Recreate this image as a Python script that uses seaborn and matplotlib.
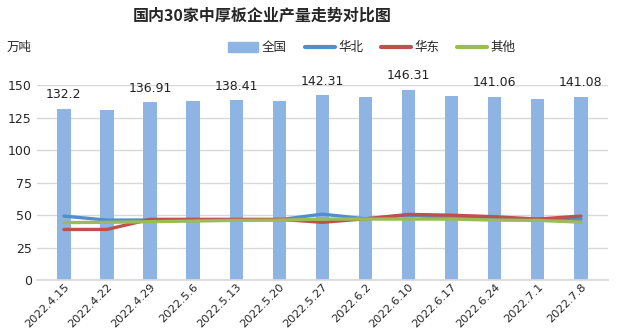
import numpy as np
import pandas as pd
import matplotlib
matplotlib.use("Agg")
import matplotlib.pyplot as plt
import seaborn as sns
from matplotlib.patches import Patch
from matplotlib.lines import Line2D

dates = ["2022.4.15", "2022.4.22", "2022.4.29", "2022.5.6", "2022.5.13", "2022.5.20",
         "2022.5.27", "2022.6.2", "2022.6.10", "2022.6.17", "2022.6.24", "2022.7.1", "2022.7.8"]
total = [132.2, 130.7, 136.91, 138.3, 138.41, 138.3, 142.31, 140.7, 146.31, 142.2, 141.06, 139.9, 141.08]
north = [49.3, 46.2, 46.3, 46.5, 46.5, 46.5, 50.8, 47.2, 50.0, 48.0, 47.0, 47.0, 47.0]
east = [39.0, 39.0, 46.8, 46.8, 46.8, 46.8, 44.5, 47.2, 50.6, 50.0, 48.8, 47.0, 49.3]
other = [44.3, 44.5, 45.0, 45.5, 46.0, 46.2, 47.0, 47.0, 47.0, 47.0, 46.2, 46.0, 44.6]
label_idx = [0, 2, 4, 6, 8, 10, 12]

sns.set_theme(style="white")
plt.rcParams['font.family'] = ['Noto Sans CJK SC', 'DejaVu Sans']

df = pd.DataFrame({"date": dates, "total": total})
lines = pd.DataFrame({
    "pos": np.tile(np.arange(len(dates)), 3),
    "val": north + east + other,
    "series": ["华北"] * len(dates) + ["华东"] * len(dates) + ["其他"] * len(dates),
})

bar_c = "#8EB4E3"
pal = {"华北": "#4F8FD0", "华东": "#C0504D", "其他": "#9BBB59"}

fig = plt.figure(figsize=(6.2, 3.35), dpi=100)
ax = fig.add_axes([0.06, 0.164, 0.92, 0.581])

sns.barplot(data=df, x="date", y="total", color=bar_c, width=0.31, ax=ax, saturation=1,
            linewidth=0, edgecolor="none")
sns.lineplot(data=lines, x="pos", y="val", hue="series", palette=pal, linewidth=2.4,
             ax=ax, legend=False, sort=False)

for i in label_idx:
    ax.text(i, total[i] + 11, f"{total[i]:g}", ha="center", va="center", fontsize=9,
            color="#222222", family=["DejaVu Sans"], clip_on=False)

ax.set_ylim(0, 150)
ax.set_xlim(-0.62, len(dates) - 0.38)
ax.set_yticks([0, 25, 50, 75, 100, 125, 150])
ax.yaxis.grid(True, color="#D9D9D9", linewidth=1)
ax.set_axisbelow(True)
for s in ["left", "right", "top"]:
    ax.spines[s].set_visible(False)
ax.spines["bottom"].set_color("#D9D9D9")
ax.set_xlabel("")
ax.set_ylabel("")
ax.set_xticks(range(len(dates)))
ax.set_xticklabels(dates, rotation=45, ha="right", rotation_mode="anchor", fontsize=8.2,
                   family=["DejaVu Sans"])
ax.tick_params(axis="y", labelsize=9, length=0, pad=4)
ax.tick_params(axis="x", length=0, pad=1)
for t in ax.get_yticklabels():
    t.set_family(["DejaVu Sans"])

fig.text(0.423, 0.952, "国内30家中厚板企业产量走势对比图", ha="center", va="center",
         fontsize=11.5, fontweight="bold")
fig.text(0.01, 0.86, "万吨", ha="left", va="center", fontsize=9)

handles = [Patch(color=bar_c, label="全国"),
           Line2D([0], [0], color=pal["华北"], lw=3, label="华北"),
           Line2D([0], [0], color=pal["华东"], lw=3, label="华东"),
           Line2D([0], [0], color=pal["其他"], lw=3, label="其他")]
fig.legend(handles=handles, loc="center", bbox_to_anchor=(0.6, 0.858), ncol=4, frameon=False,
           fontsize=9, handlelength=2.4, handleheight=0.8, columnspacing=1.4, handletextpad=0.3)

fig.savefig("out.png", dpi=100)
